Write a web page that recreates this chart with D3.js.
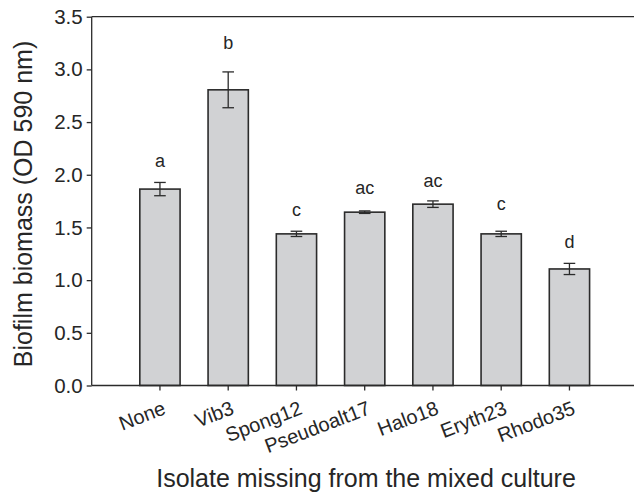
<!DOCTYPE html>
<html>
<head>
<meta charset="utf-8">
<script src="https://cdn.jsdelivr.net/npm/d3@7"></script>
<style>
  html, body { margin: 0; padding: 0; background: #fff; }
  svg { display: block; font-family: "Liberation Sans", Arial, Helvetica, sans-serif; }
</style>
</head>
<body>
<svg id="chart" width="634" height="494"></svg>
<script>
// ---- data ----
const categories = ["None", "Vib3", "Spong12", "Pseudoalt17", "Halo18", "Eryth23", "Rhodo35"];
const means      = [1.864, 2.806, 1.439, 1.645, 1.721, 1.439, 1.106];
const errors     = [0.063, 0.170, 0.025, 0.012, 0.031, 0.025, 0.053];
const letters    = ["a", "b", "c", "ac", "ac", "c", "d"];
const letterAt   = [2.077, 3.19, 1.606, 1.817, 1.882, 1.661, 1.302];
const yTicks     = [0.0, 0.5, 1.0, 1.5, 2.0, 2.5, 3.0, 3.5];
const yTitle = "Biofilm biomass (OD 590 nm)";
const xTitle = "Isolate missing from the mixed culture";

// ---- layout ----
const pL = 91.7, pT = 16.7, pB = 385.5, pR = 634;
const step = 68.25;

const svg = d3.select("#chart");
const y = d3.scaleLinear().domain([0, 3.5]).range([pB, pT]);
const x = d3.scaleBand().domain(categories)
  .range([pL + step / 2, pL + 7.5 * step])
  .paddingInner(0.41).paddingOuter(0.205);

const ink = "#2b2b2b";
const txt = "#262626";

// bars
svg.append("g").selectAll("rect").data(categories).join("rect")
  .attr("x", d => x(d))
  .attr("width", x.bandwidth())
  .attr("y", (d, i) => y(means[i]))
  .attr("height", (d, i) => y(0) - y(means[i]))
  .attr("fill", "#d1d2d4")
  .attr("stroke", ink)
  .attr("stroke-width", 1.6);

// error bars
const eb = svg.append("g").attr("stroke", ink).attr("stroke-width", 1.3);
categories.forEach((c, i) => {
  const cx = x(c) + x.bandwidth() / 2;
  const hi = y(means[i] + errors[i]), lo = y(means[i] - errors[i]);
  eb.append("line").attr("x1", cx).attr("x2", cx).attr("y1", hi).attr("y2", lo);
  eb.append("line").attr("x1", cx - 5.8).attr("x2", cx + 5.8).attr("y1", hi).attr("y2", hi);
  eb.append("line").attr("x1", cx - 5.8).attr("x2", cx + 5.8).attr("y1", lo).attr("y2", lo);
});

// letters
svg.append("g").selectAll("text").data(categories).join("text")
  .attr("x", d => x(d) + x.bandwidth() / 2)
  .attr("y", (d, i) => y(letterAt[i]))
  .attr("text-anchor", "middle")
  .attr("font-size", 18)
  .attr("fill", txt)
  .text((d, i) => letters[i]);

// y axis
const yAxis = svg.append("g").attr("transform", `translate(${pL},0)`)
  .call(d3.axisLeft(y).tickValues(yTicks).tickFormat(d3.format(".1f")).tickSize(5).tickPadding(4));
yAxis.attr("font-family", null).attr("font-size", null);
yAxis.select(".domain").attr("stroke", ink).attr("stroke-width", 1.3).attr("d", `M0,${pT}V${pB}`);
yAxis.selectAll(".tick line").attr("stroke", ink).attr("stroke-width", 1.3);
yAxis.selectAll(".tick text").attr("font-size", 20.5).attr("fill", txt);

// x axis
const xAxis = svg.append("g").attr("transform", `translate(0,${pB})`)
  .call(d3.axisBottom(x).tickSize(5).tickSizeOuter(0));
xAxis.attr("font-family", null).attr("font-size", null);
xAxis.select(".domain").attr("stroke", ink).attr("stroke-width", 1.3).attr("d", `M${pL},0H${pR}`);
xAxis.selectAll(".tick line").attr("stroke", ink).attr("stroke-width", 1.3);
xAxis.selectAll(".tick text")
  .attr("font-size", 20).attr("fill", txt)
  .attr("text-anchor", "end")
  .attr("dy", null).attr("y", 0).attr("x", 0)
  .attr("transform", "translate(7,28) rotate(-21)");

// top line
svg.append("line").attr("x1", pL).attr("x2", pR).attr("y1", pT).attr("y2", pT)
  .attr("stroke", ink).attr("stroke-width", 1.3);

// titles
svg.append("text")
  .attr("transform", `translate(31.5,204) rotate(-90)`)
  .attr("text-anchor", "middle")
  .attr("font-size", 25).attr("fill", txt)
  .text(yTitle);
svg.append("text")
  .attr("x", 366).attr("y", 487)
  .attr("text-anchor", "middle")
  .attr("font-size", 25).attr("fill", txt)
  .text(xTitle);
</script>
</body>
</html>
